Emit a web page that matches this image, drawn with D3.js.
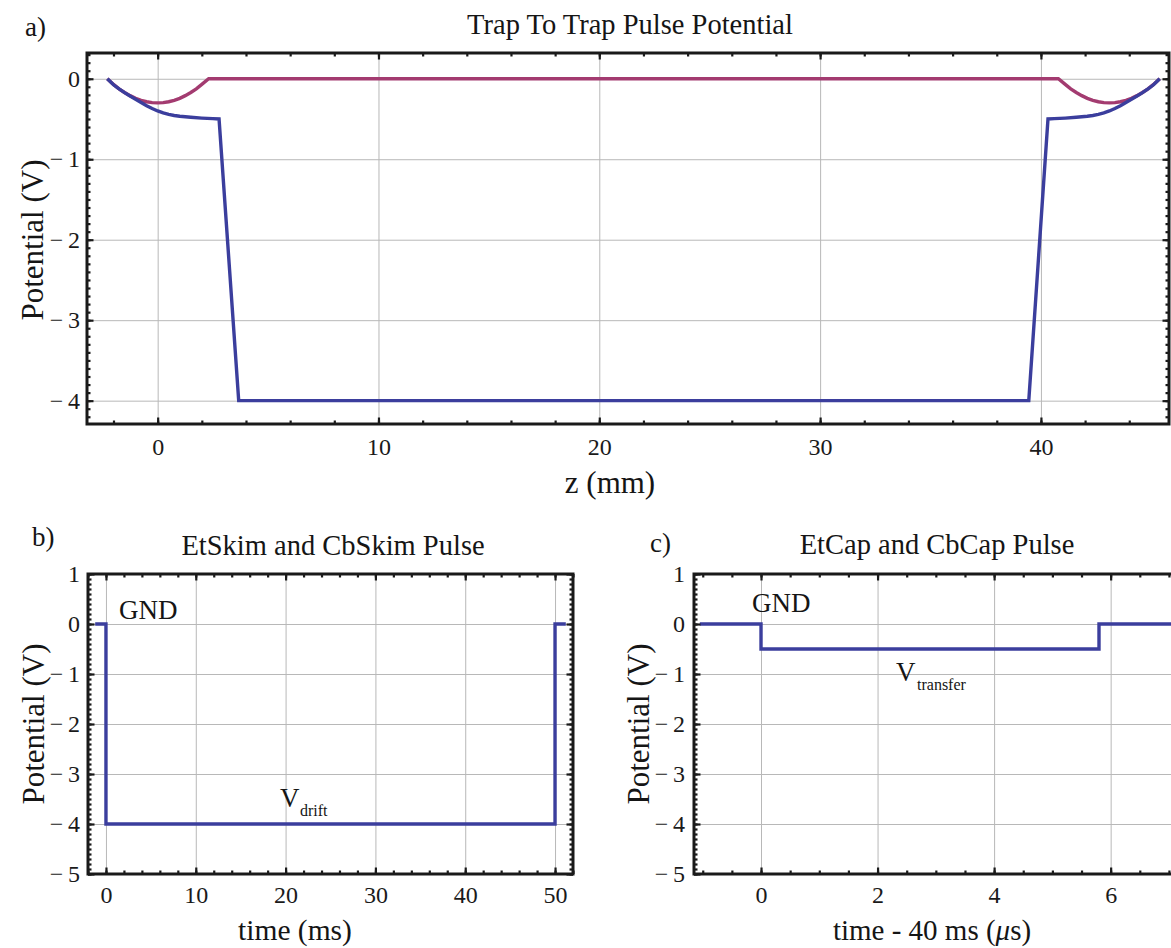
<!DOCTYPE html>
<html><head><meta charset="utf-8">
<script src="https://cdn.jsdelivr.net/npm/d3@7"></script>
<style>
body{margin:0;background:#fff}
text{font-family:"Liberation Serif","Times New Roman",serif;fill:#151515}
</style>
</head><body>
<svg id="chart" width="1171" height="948"></svg>
<script>
// ---------- DATA ----------
// Panel a: Trap To Trap Pulse Potential
const aBlueZ = [-2.28,-2.0,-1.75,-1.5,-1.25,-1.0,-0.75,-0.5,-0.25,0,0.25,0.5,0.75,1.0,1.5,2.0,2.5,2.78,3.67,
                39.45,40.32,40.6,41.1,41.6,42.1,42.35,42.6,42.85,43.1,43.35,43.6,43.85,44.1,44.35,44.6,44.85,45.1,45.38];
const aBlueV = [0,-0.075,-0.125,-0.172,-0.215,-0.255,-0.295,-0.335,-0.37,-0.40,-0.425,-0.443,-0.456,-0.466,-0.479,-0.489,-0.496,-0.5,-4,
                -4,-0.5,-0.496,-0.489,-0.479,-0.466,-0.456,-0.443,-0.425,-0.40,-0.37,-0.335,-0.295,-0.255,-0.215,-0.172,-0.125,-0.075,0];
const aMagZ = [-2.28,-2.0,-1.75,-1.5,-1.25,-1.0,-0.75,-0.5,-0.25,0,0.25,0.5,0.75,1.0,1.25,1.5,1.75,2.0,2.31,
               40.79,41.1,41.35,41.6,41.85,42.1,42.35,42.6,42.85,43.1,43.35,43.6,43.85,44.1,44.35,44.6,44.85,45.1,45.38];
const aMagV = [0,-0.07,-0.125,-0.17,-0.21,-0.243,-0.268,-0.286,-0.297,-0.30,-0.297,-0.286,-0.268,-0.243,-0.21,-0.17,-0.125,-0.07,0,
               0,-0.07,-0.125,-0.17,-0.21,-0.243,-0.268,-0.286,-0.297,-0.30,-0.297,-0.286,-0.268,-0.243,-0.21,-0.17,-0.125,-0.07,0];
const aXTicks = [0,10,20,30,40];
const aYTicks = [0,-1,-2,-3,-4];

// Panel b: EtSkim and CbSkim Pulse
const bT = [-1.2,0,0,50,50,51.2];
const bV = [0,0,-4,-4,0,0];
const bXTicks = [0,10,20,30,40,50];

// Panel c: EtCap and CbCap Pulse
const cT = [-1.05,0,0,5.8,5.8,7.6];
const cV = [0,0,-0.5,-0.5,0,0];
const cXTicks = [0,2,4,6];

const bcYTicks = [1,0,-1,-2,-3,-4,-5];

// ---------- DRAW ----------
const svg = d3.select("#chart");
const BLUE = "#3b3e9d", MAG = "#a33b70", INK = "#1a1a1a", GRID = "#b8b8b8";
const fmt = d => d < 0 ? "\u2212\u2009" + Math.abs(d) : String(d);
let clipId = 0;

function drawPanel(p) {
  const g = svg.append("g");
  const x = d3.scaleLinear().domain(p.xDomain).range([p.left, p.right]);
  const y = d3.scaleLinear().domain(p.yDomain).range([p.top, p.bottom]);
  const W = p.right - p.left, H = p.bottom - p.top;
  const clean = s => s.select(".domain").remove();

  // grid
  g.append("g").attr("transform", `translate(0,${p.bottom})`)
    .call(d3.axisBottom(x).tickValues(p.xMajor).tickSize(-H).tickFormat(""))
    .call(clean).call(s => s.selectAll("line").attr("stroke", GRID).attr("stroke-width", 1));
  g.append("g").attr("transform", `translate(${p.left},0)`)
    .call(d3.axisLeft(y).tickValues(p.yMajor).tickSize(-W).tickFormat(""))
    .call(clean).call(s => s.selectAll("line").attr("stroke", GRID).attr("stroke-width", 1));

  // data lines
  const id = "clip" + (clipId++);
  g.append("clipPath").attr("id", id).append("rect")
    .attr("x", p.left).attr("y", p.top).attr("width", W).attr("height", H);
  const dl = g.append("g").attr("clip-path", `url(#${id})`);
  p.series.forEach(s => {
    const pts = s.xs.map((v, i) => [v, s.ys[i]]);
    dl.append("path").datum(pts)
      .attr("d", d3.line().x(d => x(d[0])).y(d => y(d[1])))
      .attr("fill", "none").attr("stroke", s.color).attr("stroke-width", 3.4)
      .attr("stroke-linejoin", "miter");
  });

  // ticks (inward) on four sides
  const tickStyle = s => s.selectAll("line").attr("stroke", INK).attr("stroke-width", 2.2);
  const sides = [
    [d3.axisBottom(x), `translate(0,${p.bottom})`, p.xMajor, p.xMinor],
    [d3.axisTop(x), `translate(0,${p.top})`, p.xMajor, p.xMinor],
    [d3.axisLeft(y), `translate(${p.left},0)`, p.yMajor, p.yMinor],
    [d3.axisRight(y), `translate(${p.right},0)`, p.yMajor, p.yMinor]
  ];
  sides.forEach(([ax, tr, maj, min]) => {
    g.append("g").attr("transform", tr)
      .call(ax.tickValues(min).tickSize(-3.5).tickFormat(""))
      .call(clean).call(tickStyle);
    g.append("g").attr("transform", tr)
      .call(ax.tickValues(maj).tickSize(-6.5).tickFormat(""))
      .call(clean).call(tickStyle);
  });

  // tick labels
  const lab = s => s.selectAll("text").attr("font-size", 24).attr("font-family", null)
    .style("fill", INK).style("font-family", '"Liberation Serif", serif');
  g.append("g").attr("transform", `translate(0,${p.bottom})`)
    .call(d3.axisBottom(x).tickValues(p.xMajor).tickSize(0).tickPadding(p.xPad).tickFormat(fmt))
    .call(clean).call(lab);
  g.append("g").attr("transform", `translate(${p.left},0)`)
    .call(d3.axisLeft(y).tickValues(p.yMajor).tickSize(0).tickPadding(p.yPad).tickFormat(fmt))
    .call(clean).call(lab);

  // frame
  g.append("rect").attr("x", p.left).attr("y", p.top).attr("width", W).attr("height", H)
    .attr("fill", "none").attr("stroke", INK).attr("stroke-width", 3);

  // titles and labels
  g.append("text").attr("x", p.titleX).attr("y", p.titleY).attr("text-anchor", "middle")
    .attr("font-size", 28.5).text(p.title);
  g.append("text").attr("x", p.xLabelX).attr("y", p.xLabelY).attr("text-anchor", "middle")
    .attr("font-size", p.xLabelSize).html(p.xLabel);
  g.append("text").attr("transform", `translate(${p.yLabelX},${p.yLabelY}) rotate(-90)`)
    .attr("text-anchor", "middle").attr("font-size", 31).text("Potential (V)");
  g.append("text").attr("x", p.letterX).attr("y", p.letterY).attr("font-size", 27).text(p.letter);
  return {g, x, y};
}

const range = (a, b, s) => d3.range(a, b + s / 2, s).map(v => +v.toFixed(4));

// Panel a
drawPanel({
  left: 87, right: 1169, top: 53, bottom: 424,
  xDomain: [-3.2, 45.8], yDomain: [0.32, -4.29],
  xMajor: aXTicks, xMinor: range(-2, 44, 2),
  yMajor: aYTicks, yMinor: range(-4.2, 0.3, 0.1),
  xPad: 14, yPad: 7,
  series: [{xs: aMagZ, ys: aMagV, color: MAG}, {xs: aBlueZ, ys: aBlueV, color: BLUE}],
  title: "Trap To Trap Pulse Potential", titleX: 630, titleY: 34,
  xLabel: "z (mm)", xLabelX: 610, xLabelY: 493, xLabelSize: 31,
  yLabelX: 43, yLabelY: 240, letter: "a)", letterX: 25, letterY: 36
});

// Panel b
const pb = drawPanel({
  left: 88, right: 573, top: 574, bottom: 874,
  xDomain: [-2, 52], yDomain: [1, -5],
  xMajor: bXTicks, xMinor: range(-2, 52, 2),
  yMajor: bcYTicks, yMinor: range(-5, 1, 0.1),
  xPad: 12, yPad: 8,
  series: [{xs: bT, ys: bV, color: BLUE}],
  title: "EtSkim and CbSkim Pulse", titleX: 333, titleY: 555,
  xLabel: "time (ms)", xLabelX: 295, xLabelY: 940, xLabelSize: 29.5,
  yLabelX: 44, yLabelY: 724, letter: "b)", letterX: 32, letterY: 546
});
pb.g.append("text").attr("x", 119).attr("y", 619).attr("font-size", 27).text("GND");
pb.g.append("text").attr("x", 280).attr("y", 807).attr("font-size", 27).text("V");
pb.g.append("text").attr("x", 300).attr("y", 816).attr("font-size", 16).text("drift");

// Panel c
const pc = drawPanel({
  left: 694, right: 1180, top: 574, bottom: 874,
  xDomain: [-1.15, 7.19], yDomain: [1, -5],
  xMajor: cXTicks, xMinor: range(-1, 7, 0.5),
  yMajor: bcYTicks, yMinor: range(-5, 1, 0.1),
  xPad: 12, yPad: 9,
  series: [{xs: cT, ys: cV, color: BLUE}],
  title: "EtCap and CbCap Pulse", titleX: 937, titleY: 554,
  xLabel: "time - 40 ms (<tspan font-style=\"italic\">\u03bc</tspan>s)", xLabelX: 932, xLabelY: 940, xLabelSize: 29,
  yLabelX: 649, yLabelY: 724, letter: "c)", letterX: 650, letterY: 552
});
pc.g.append("text").attr("x", 752).attr("y", 612).attr("font-size", 27).text("GND");
pc.g.append("text").attr("x", 896).attr("y", 681).attr("font-size", 27).text("V");
pc.g.append("text").attr("x", 917).attr("y", 690).attr("font-size", 16).text("transfer");
</script>
</body></html>
